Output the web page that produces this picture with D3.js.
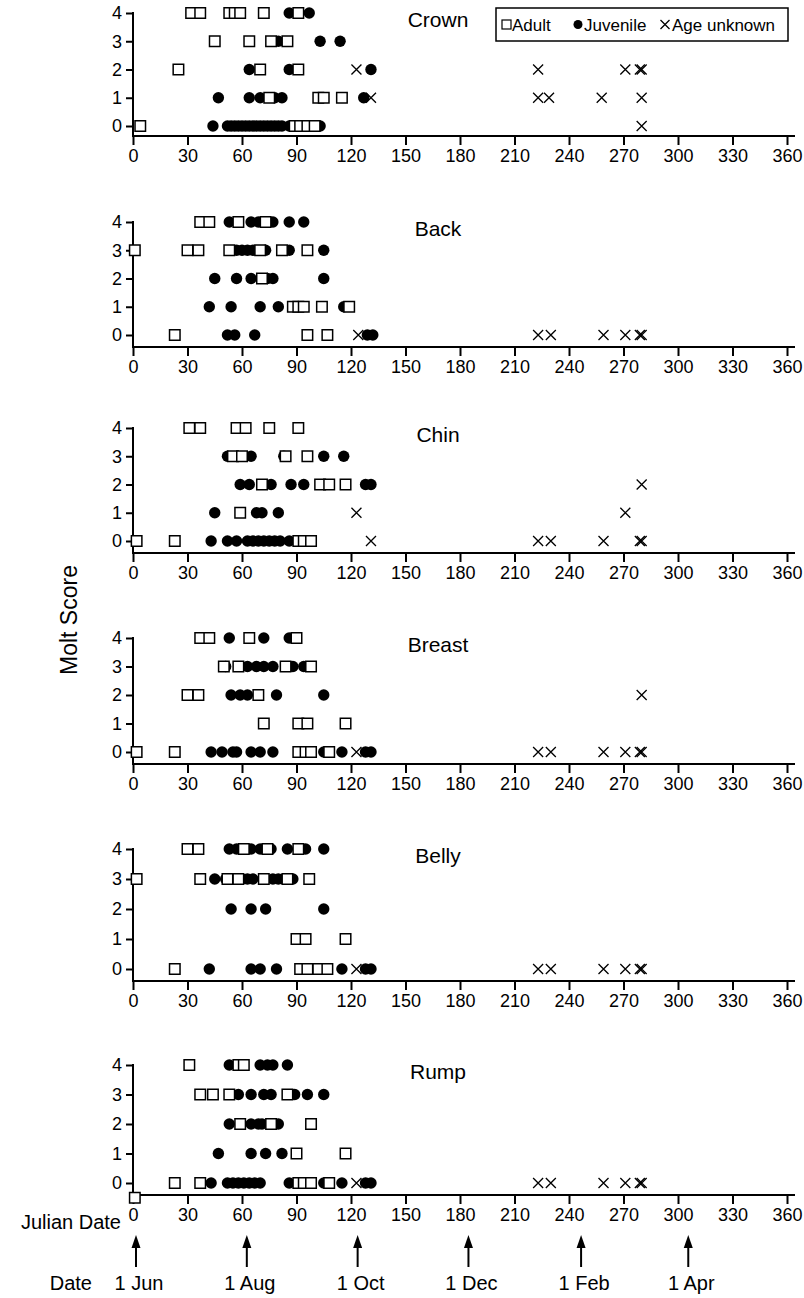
<!DOCTYPE html>
<html>
<head>
<meta charset="utf-8">
<script src="https://cdn.jsdelivr.net/npm/d3@7"></script>
<style>
  body { margin: 0; background: #fff; }
  svg text { font-family: "Liberation Sans", Arial, sans-serif; fill: #000; }
</style>
</head>
<body>
<div id="chart"></div>
<script>
// molt score by julian date, one panel per body region
// each point is [julian day, molt score]

// CROWN
const crownAdult = [[32,4],[37,4],[53,4],[56,4],[59,4],[72,4],[91,4],
  [45,3],[64,3],[76,3],[85,3],
  [25,2],[70,2],[91,2],
  [75,1],[102,1],[105,1],[115,1],
  [4,0],[89,0],[92,0],[96,0],[100,0]];
const crownJuv = [[86,4],[97,4],
  [80,3],[103,3],[114,3],
  [64,2],[86,2],[131,2],
  [47,1],[64,1],[70,1],[78,1],[82,1],[127,1],
  [44,0],[52,0],[54,0],[56,0],[58,0],[60,0],[62,0],[64,0],[66,0],[68,0],[70,0],[72,0],[74,0],[76,0],[78,0],[80,0],[82,0],[86,0],[103,0]];
const crownUnk = [[123,2],[223,2],[271,2],[279,2],[280,2],
  [131,1],[223,1],[229,1],[258,1],[280,1],
  [280,0]];

// BACK
const backAdult = [[37,4],[42,4],[58,4],[73,4],
  [1,3],[30,3],[36,3],[53,3],[70,3],[82,3],[96,3],
  [71,2],
  [88,1],[91,1],[94,1],[104,1],[119,1],
  [23,0],[96,0],[107,0]];
const backJuv = [[53,4],[65,4],[69,4],[77,4],[86,4],[94,4],
  [57,3],[60,3],[63,3],[66,3],[73,3],[86,3],[105,3],
  [45,2],[57,2],[65,2],[74,2],[77,2],[105,2],
  [42,1],[54,1],[70,1],[80,1],[116,1],
  [52,0],[56,0],[67,0],[129,0],[132,0]];
const backUnk = [[124,0],[223,0],[230,0],[259,0],[271,0],[279,0],[280,0]];

// CHIN
const chinAdult = [[31,4],[37,4],[57,4],[62,4],[75,4],[91,4],
  [55,3],[60,3],[84,3],[96,3],
  [71,2],[103,2],[108,2],[117,2],
  [59,1],
  [2,0],[23,0],[91,0],[94,0],[98,0]];
const chinJuv = [[52,3],[65,3],[83,3],[105,3],[116,3],
  [59,2],[64,2],[76,2],[87,2],[94,2],[105,2],[128,2],[131,2],
  [45,1],[68,1],[71,1],[80,1],
  [43,0],[52,0],[57,0],[63,0],[66,0],[69,0],[72,0],[75,0],[78,0],[81,0],[86,0]];
const chinUnk = [[280,2],
  [123,1],[271,1],
  [131,0],[223,0],[230,0],[259,0],[279,0],[280,0]];

// BREAST
const breastAdult = [[37,4],[42,4],[64,4],[90,4],
  [50,3],[58,3],[84,3],[98,3],
  [30,2],[36,2],[69,2],
  [72,1],[91,1],[96,1],[117,1],
  [2,0],[23,0],[91,0],[95,0],[98,0],[108,0]];
const breastJuv = [[53,4],[72,4],[86,4],
  [51,3],[63,3],[68,3],[72,3],[77,3],[88,3],[94,3],
  [54,2],[59,2],[63,2],[79,2],[105,2],
  [43,0],[49,0],[55,0],[57,0],[65,0],[70,0],[77,0],[105,0],[115,0],[128,0],[131,0]];
const breastUnk = [[280,2],
  [123,0],[223,0],[230,0],[259,0],[271,0],[279,0],[280,0]];

// BELLY
const bellyAdult = [[30,4],[36,4],[61,4],[74,4],[91,4],
  [2,3],[37,3],[52,3],[58,3],[72,3],[85,3],[97,3],
  [90,1],[95,1],[117,1],
  [23,0],[92,0],[96,0],[102,0],[107,0]];
const bellyJuv = [[53,4],[57,4],[65,4],[70,4],[76,4],[85,4],[95,4],[105,4],
  [45,3],[51,3],[54,3],[57,3],[60,3],[63,3],[66,3],[77,3],[80,3],[83,3],[88,3],
  [54,2],[65,2],[73,2],[105,2],
  [42,0],[65,0],[70,0],[79,0],[115,0],[128,0],[131,0]];
const bellyUnk = [[123,0],[223,0],[230,0],[259,0],[271,0],[279,0],[280,0]];

// RUMP
const rumpAdult = [[31,4],[58,4],[61,4],
  [37,3],[44,3],[53,3],[85,3],
  [59,2],[76,2],[98,2],
  [90,1],[117,1],
  [23,0],[37,0],[91,0],[94,0],[98,0],[108,0],
  [1,-0.5]];
const rumpJuv = [[53,4],[70,4],[74,4],[77,4],[85,4],
  [58,3],[65,3],[72,3],[76,3],[89,3],[96,3],[105,3],
  [53,2],[65,2],[69,2],[71,2],[80,2],
  [47,1],[65,1],[73,1],[82,1],
  [43,0],[52,0],[55,0],[58,0],[61,0],[64,0],[67,0],[70,0],[86,0],[105,0],[115,0],[128,0],[131,0]];
const rumpUnk = [[123,0],[223,0],[230,0],[259,0],[271,0],[279,0],[280,0]];

// axis ticks and calendar markers
const dayTicks = [0, 30, 60, 90, 120, 150, 180, 210, 240, 270, 300, 330, 360];
const scoreTicks = [0, 1, 2, 3, 4];
const dateDays = [0, 61, 122, 183, 245, 304];
const dateLabels = ["1 Jun", "1 Aug", "1 Oct", "1 Dec", "1 Feb", "1 Apr"];

const panels = [
  { name: "Crown", adult: crownAdult, juv: crownJuv, unk: crownUnk },
  { name: "Back", adult: backAdult, juv: backJuv, unk: backUnk },
  { name: "Chin", adult: chinAdult, juv: chinJuv, unk: chinUnk },
  { name: "Breast", adult: breastAdult, juv: breastJuv, unk: breastUnk },
  { name: "Belly", adult: bellyAdult, juv: bellyJuv, unk: bellyUnk },
  { name: "Rump", adult: rumpAdult, juv: rumpJuv, unk: rumpUnk }
];

// layout: y of score 4 and score 0 for each panel
const rowTop = [13, 222, 428, 638, 849, 1065];
const rowBottom = [126, 335, 541, 752, 969, 1183];

const width = 804;
const height = 1298;
const axisRight = 795;

const svg = d3.select("#chart")
  .append("svg")
  .attr("width", width)
  .attr("height", height);

svg.append("rect").attr("width", width).attr("height", height).attr("fill", "#fff");

const x = d3.scaleLinear().domain([0, 360]).range([133, 787]);

const sq = 10.5;  // square size
const rad = 5.7;  // dot radius
const cx = 5;     // cross half size

const drawSquare = (g, px, py) => {
  g.append("rect")
    .attr("x", px - sq / 2)
    .attr("y", py - sq / 2)
    .attr("width", sq)
    .attr("height", sq)
    .attr("fill", "#fff")
    .attr("stroke", "#000")
    .attr("stroke-width", 1.5);
};

const drawCross = (g, px, py, s) => {
  g.append("path")
    .attr("d", `M${px - s},${py - s}L${px + s},${py + s}M${px - s},${py + s}L${px + s},${py - s}`)
    .attr("stroke", "#000")
    .attr("stroke-width", 1.3)
    .attr("fill", "none");
};

panels.forEach((p, i) => {
  const g = svg.append("g");
  const y = d3.scaleLinear().domain([0, 4]).range([rowBottom[i], rowTop[i]]);
  const axisY = rowBottom[i] + (i === 0 ? 10 : 12);

  // x axis
  const xAxis = d3.axisBottom(x).tickValues(dayTicks).tickSize(9).tickPadding(4);
  const xg = g.append("g")
    .attr("transform", `translate(0, ${axisY})`)
    .call(xAxis);
  xg.select(".domain").remove();
  xg.selectAll(".tick line").attr("stroke-width", 2);
  xg.selectAll("text").attr("font-size", 18).attr("fill", "#000");
  g.append("line")
    .attr("x1", x(0) - 1).attr("x2", axisRight)
    .attr("y1", axisY).attr("y2", axisY)
    .attr("stroke", "#000").attr("stroke-width", 2);

  // y axis
  const yAxis = d3.axisLeft(y).tickValues(scoreTicks).tickFormat(d3.format("d"))
    .tickSize(7).tickPadding(4);
  const yg = g.append("g")
    .attr("transform", `translate(${x(0)}, 0)`)
    .call(yAxis);
  yg.select(".domain").remove();
  yg.selectAll(".tick line").attr("stroke-width", 2);
  yg.selectAll("text").attr("font-size", 18).attr("fill", "#000");
  g.append("line")
    .attr("x1", x(0)).attr("x2", x(0))
    .attr("y1", y(4) - 1).attr("y2", axisY)
    .attr("stroke", "#000").attr("stroke-width", 2);

  // title
  g.append("text")
    .attr("x", 438)
    .attr("y", y(4) + 14)
    .attr("text-anchor", "middle")
    .attr("font-size", 21)
    .text(p.name);

  // juveniles first, adults (white squares) on top, crosses last
  g.selectAll(".juv")
    .data(p.juv)
    .enter()
    .append("circle")
    .attr("cx", d => x(d[0]))
    .attr("cy", d => y(d[1]))
    .attr("r", rad)
    .attr("fill", "#000");

  p.adult.forEach(d => drawSquare(g, x(d[0]), y(d[1])));
  p.unk.forEach(d => drawCross(g, x(d[0]), y(d[1]), cx));
});

// y label
svg.append("text")
  .attr("transform", "translate(77, 620) rotate(-90)")
  .attr("text-anchor", "middle")
  .attr("font-size", 23)
  .text("Molt Score");

// legend
const legend = svg.append("g");
legend.append("rect")
  .attr("x", 496).attr("y", 8)
  .attr("width", 292).attr("height", 33)
  .attr("fill", "#fff").attr("stroke", "#000").attr("stroke-width", 1.5);
legend.append("rect")
  .attr("x", 502).attr("y", 20).attr("width", 9).attr("height", 9)
  .attr("fill", "#fff").attr("stroke", "#000").attr("stroke-width", 1.2);
legend.append("text").attr("x", 512).attr("y", 31).attr("font-size", 17).text("Adult");
legend.append("circle").attr("cx", 578).attr("cy", 24.5).attr("r", 4.5).attr("fill", "#000");
legend.append("text").attr("x", 584).attr("y", 31).attr("font-size", 17).text("Juvenile");
drawCross(legend, 665, 24.5, 4.5);
legend.append("text").attr("x", 672).attr("y", 31).attr("font-size", 17).text("Age unknown");

// bottom: julian date and calendar date arrows
svg.append("text")
  .attr("x", 121).attr("y", 1229)
  .attr("text-anchor", "end")
  .attr("font-size", 20)
  .text("Julian Date");

const arrows = svg.append("g");
dateDays.forEach((d, i) => {
  const ax = x(d) + 3;
  arrows.append("line")
    .attr("x1", ax).attr("x2", ax)
    .attr("y1", 1267).attr("y2", 1244)
    .attr("stroke", "#000").attr("stroke-width", 2);
  arrows.append("path")
    .attr("d", `M${ax},1235L${ax - 4.5},1248L${ax + 4.5},1248Z`)
    .attr("fill", "#000");
  arrows.append("text")
    .attr("x", ax + 3).attr("y", 1290)
    .attr("text-anchor", "middle")
    .attr("font-size", 20)
    .text(dateLabels[i]);
});
svg.append("text")
  .attr("x", 92).attr("y", 1290)
  .attr("text-anchor", "end")
  .attr("font-size", 20)
  .text("Date");
</script>
</body>
</html>
